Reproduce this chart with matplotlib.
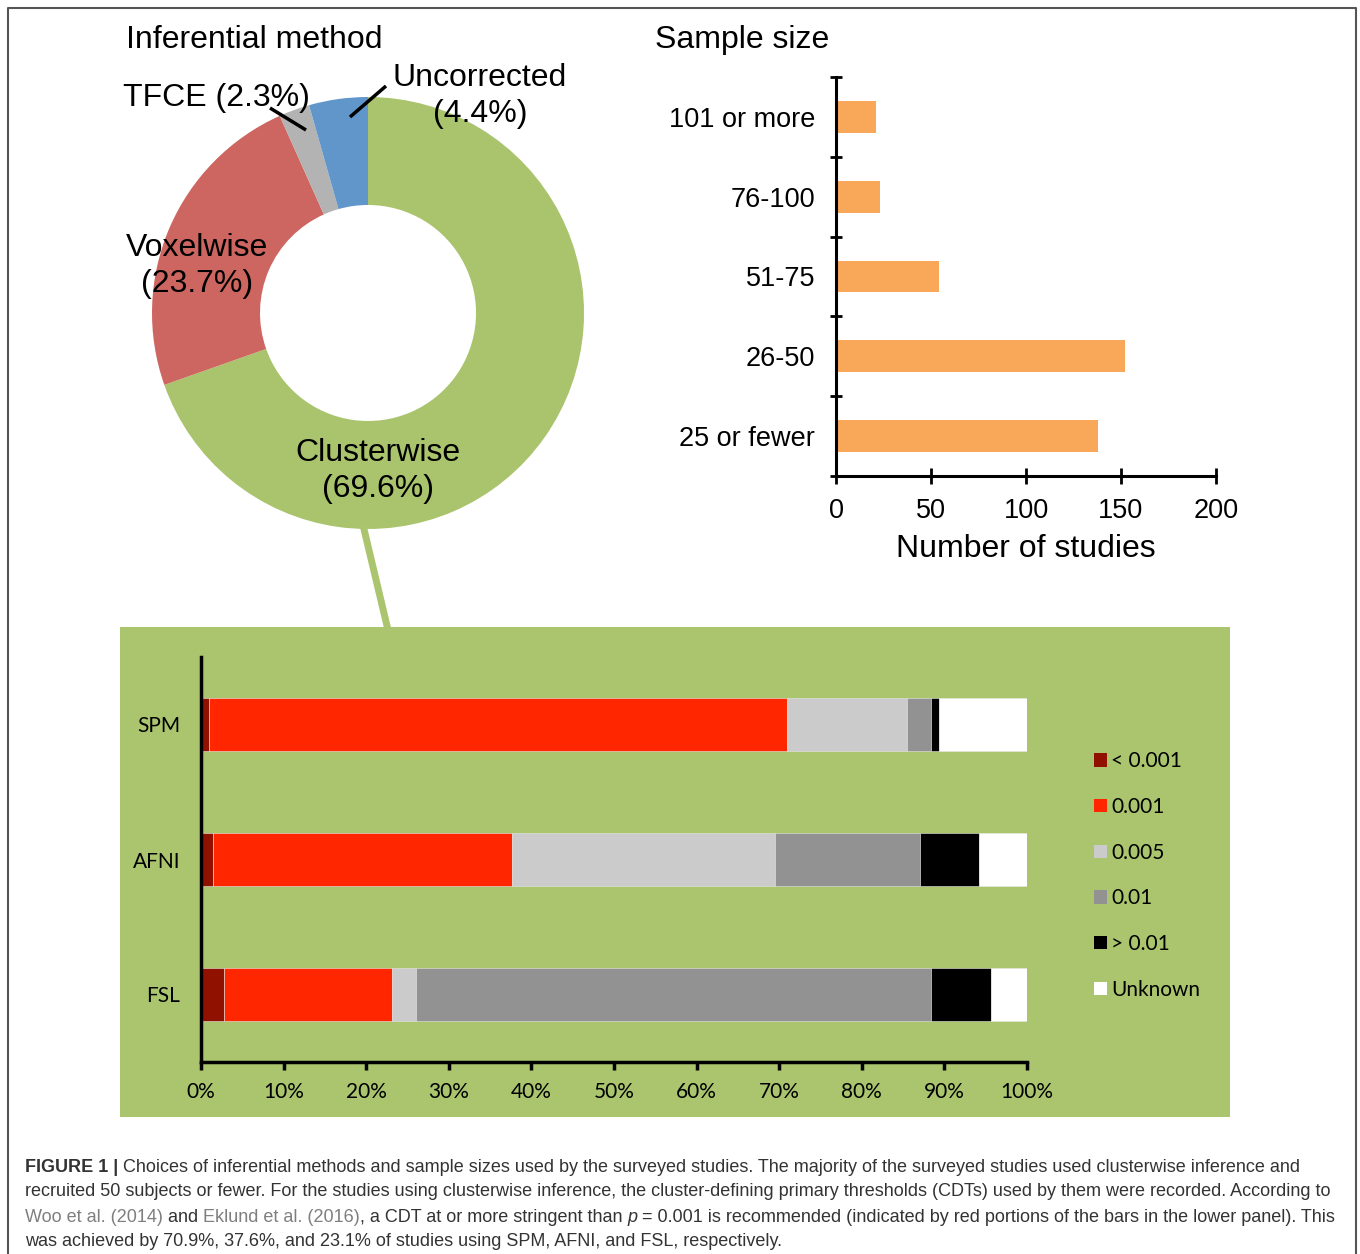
import numpy as np
import matplotlib
matplotlib.use("Agg")
import matplotlib.pyplot as plt
import matplotlib.font_manager as fm
from matplotlib.lines import Line2D
from matplotlib.patches import Rectangle, Patch

W, H = 1360, 1254

# pie data
methods = ["Clusterwise", "Voxelwise", "TFCE", "Uncorrected"]
method_pct = [69.6, 23.7, 2.3, 4.4]
method_colors = ["#A9C46C", "#CD6660", "#B3B3B3", "#6196CB"]

# sample size data
size_cats = ["25 or fewer", "26-50", "51-75", "76-100", "101 or more"]
size_counts = [138, 152, 54, 23, 21]

# CDT data (percent of studies)
packages = ["SPM", "AFNI", "FSL"]
cdt_labels = ["< 0.001", "0.001", "0.005", "0.01", "> 0.01", "Unknown"]
cdt_colors = ["#911100", "#FF2600", "#CBCBCB", "#929292", "#000000", "#FFFFFF"]
cdt_spm = [1.0, 69.9, 14.6, 2.9, 0.9, 10.7]
cdt_afni = [1.5, 36.1, 31.9, 17.5, 7.2, 5.8]
cdt_fsl = [2.8, 20.3, 2.9, 62.4, 7.2, 4.4]

SANS = ["Liberation Sans", "DejaVu Sans"]
CAL = ["Lato", "DejaVu Sans"]
plt.rcParams["font.family"] = SANS


def fx(x):
    return x / W


def fy(y):
    return 1 - y / H


def box(x0, y0, x1, y1):
    # pixel box (top-left, bottom-right) -> figure fraction rect
    return [fx(x0), fy(y1), (x1 - x0) / W, (y1 - y0) / H]


fig = plt.figure(figsize=(W / 100, H / 100), dpi=100)

# outer frame
fig.add_artist(Line2D([fx(8), fx(8), fx(1356), fx(1356)], [0, fy(8), fy(8), 0],
                      transform=fig.transFigure, color="#555555", lw=1.5))

# ---------------- donut ----------------
R = 216
cx, cy = 368, 313
ax_pie = fig.add_axes(box(cx - 260, cy - 260, cx + 260, cy + 260))
ax_pie.pie(method_pct, colors=method_colors, startangle=90, counterclock=False,
           radius=1, wedgeprops=dict(width=0.5, linewidth=0))
lim = 260 / R
ax_pie.set_xlim(-lim, lim)
ax_pie.set_ylim(-lim, lim)
ax_pie.set_aspect("equal")
ax_pie.axis("off")


def pd(px, py):
    return ((px - cx) / R, (cy - py) / R)


fs_top = 23
ls = 1.27
ax_pie.text(*pd(378, 471), "%s\n(%.1f%%)" % (methods[0], method_pct[0]),
            ha="center", va="center", fontsize=fs_top, linespacing=ls)
ax_pie.text(*pd(197, 266), "%s\n(%.1f%%)" % (methods[1], method_pct[1]),
            ha="center", va="center", fontsize=fs_top, linespacing=ls)
ax_pie.text(*pd(216, 98), "%s (%.1f%%)" % (methods[2], method_pct[2]),
            ha="center", va="center", fontsize=fs_top)
ax_pie.text(*pd(480, 96), "%s\n(%.1f%%)" % (methods[3], method_pct[3]),
            ha="center", va="center", fontsize=fs_top, linespacing=ls)
for (a, b) in [((270, 108), (306, 130)), ((386, 86), (350, 117))]:
    p0, p1 = pd(*a), pd(*b)
    ax_pie.plot([p0[0], p1[0]], [p0[1], p1[1]], color="black", lw=2.5,
                solid_capstyle="butt", clip_on=False)
fig.text(fx(254), fy(40), "Inferential method", ha="center", va="center", fontsize=fs_top)

# connector to lower panel
fig.add_artist(Line2D([fx(363), fx(388)], [fy(525), fy(630)], transform=fig.transFigure,
                      color="#AAC56E", lw=5, solid_capstyle="butt"))

# ---------------- sample size ----------------
ax_s = fig.add_axes(box(836, 77, 1216, 476))
ypos = np.arange(len(size_cats))
ax_s.barh(ypos, size_counts, height=0.4, color="#F9A85A", edgecolor="none")
ax_s.set_xlim(0, 200)
ax_s.set_ylim(-0.5, len(size_cats) - 0.5)
ax_s.set_xticks([0, 50, 100, 150, 200])
ax_s.set_yticks(np.arange(-0.5, len(size_cats)), labels=[""] * (len(size_cats) + 1))
ax_s.set_yticks(ypos, labels=size_cats, minor=True)
ax_s.tick_params(axis="y", which="minor", length=0, pad=15, labelsize=19.5)
ax_s.tick_params(axis="y", which="major", direction="inout", length=9, width=2)
ax_s.tick_params(axis="x", direction="inout", length=12, width=2, labelsize=19.5, pad=10)
for sp in ["top", "right"]:
    ax_s.spines[sp].set_visible(False)
for sp in ["left", "bottom"]:
    ax_s.spines[sp].set_linewidth(2.2)
ax_s.set_xlabel("Number of studies", fontsize=fs_top, labelpad=7)
fig.text(fx(742), fy(40), "Sample size", ha="center", va="center", fontsize=fs_top)

# ---------------- CDT panel ----------------
fig.add_artist(Rectangle((fx(120), fy(1117)), (1230 - 120) / W, (1117 - 627) / H,
                         transform=fig.transFigure, facecolor="#AAC56E", edgecolor="none",
                         zorder=0))
ax_c = fig.add_axes(box(201, 657, 1027, 1062))
ax_c.patch.set_visible(False)
cdt = np.array([cdt_spm, cdt_afni, cdt_fsl])
yc = np.arange(len(packages))[::-1]
left = np.zeros(len(packages))
for j, lab in enumerate(cdt_labels):
    ax_c.barh(yc, cdt[:, j], left=left, height=0.39, color=cdt_colors[j],
              edgecolor="#E6E6E6", linewidth=0.4, label=lab)
    left += cdt[:, j]
ax_c.set_xlim(0, 100)
ax_c.set_ylim(-0.5, 2.5)
ax_c.set_xticks(np.arange(0, 101, 10), labels=["%d%%" % v for v in range(0, 101, 10)])
ax_c.set_yticks(yc, labels=packages)
ax_c.tick_params(axis="y", length=0, pad=15)
ax_c.tick_params(axis="x", direction="out", length=6, width=2.5, pad=8.5)
for lab in ax_c.get_xticklabels() + ax_c.get_yticklabels():
    lab.set_family(CAL)
    lab.set_fontsize(15)
for sp in ["top", "right"]:
    ax_c.spines[sp].set_visible(False)
for sp in ["left", "bottom"]:
    ax_c.spines[sp].set_linewidth(2.5)

handles = [Patch(facecolor=c, edgecolor="none") for c in cdt_colors]
leg = fig.legend(handles, cdt_labels, loc="upper left",
                 bbox_to_anchor=(fx(1084), fy(741)), frameon=False,
                 prop=fm.FontProperties(family=CAL, size=15),
                 handlelength=0.6, handleheight=0.6, handletextpad=0.2,
                 labelspacing=1.23, borderpad=0)

# ---------------- caption ----------------
cap_fs = 13
grey = "#7F7F7F"
txt = "#333333"
lines = [
    [("FIGURE 1 | ", "bold", "normal", txt),
     ("Choices of inferential methods and sample sizes used by the surveyed studies. The majority of the surveyed studies used clusterwise inference and", "normal", "normal", txt)],
    [("recruited 50 subjects or fewer. For the studies using clusterwise inference, the cluster-defining primary thresholds (CDTs) used by them were recorded. According to", "normal", "normal", txt)],
    [("Woo et al. (2014)", "normal", "normal", grey),
     (" and ", "normal", "normal", txt),
     ("Eklund et al. (2016)", "normal", "normal", grey),
     (", a CDT at or more stringent than ", "normal", "normal", txt),
     ("p", "normal", "italic", txt),
     (" = 0.001 is recommended (indicated by red portions of the bars in the lower panel). This", "normal", "normal", txt)],
    [("was achieved by 70.9%, 37.6%, and 23.1% of studies using SPM, AFNI, and FSL, respectively.", "normal", "normal", txt)],
]
ys = [1167, 1192, 1217, 1242]
renderer = fig.canvas.get_renderer()
for line, y in zip(lines, ys):
    x = 25
    for s, wgt, sty, col in line:
        kw = dict(fontsize=cap_fs, fontweight=wgt, fontstyle=sty, family=SANS)
        fig.text(fx(x), fy(y), s, color=col, va="center", ha="left", **kw)
        # measure advance including spaces
        probe = fig.text(0, 0, "|" + s + "|", **kw)
        bar = fig.text(0, 0, "||", **kw)
        x += (probe.get_window_extent(renderer).width
              - bar.get_window_extent(renderer).width)
        probe.remove()
        bar.remove()

fig.savefig("out.png", dpi=100)
